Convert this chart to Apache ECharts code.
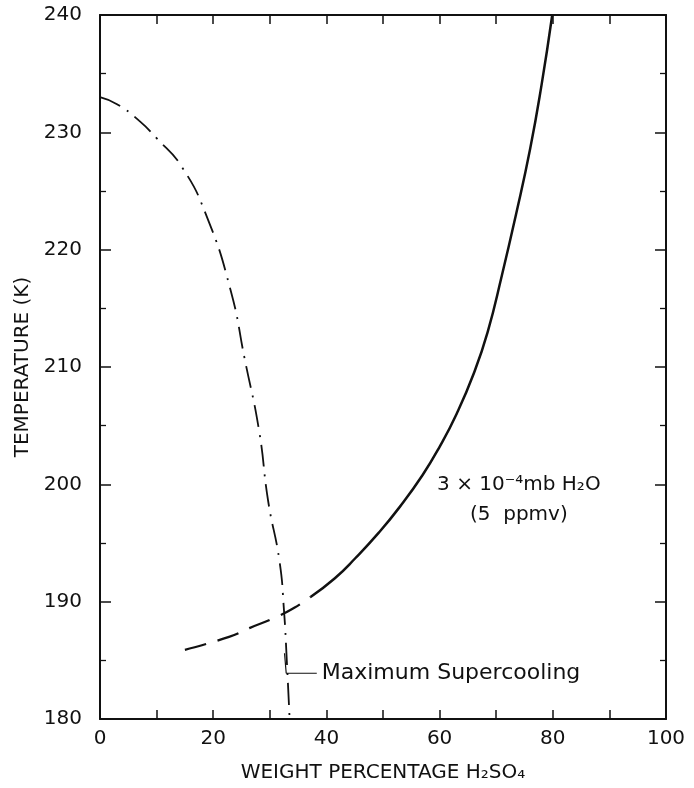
<!DOCTYPE html>
<html>
<head>
<meta charset="utf-8">
<script src="https://cdn.jsdelivr.net/npm/echarts@6/dist/echarts.min.js"></script>
<style>
  html, body { margin: 0; padding: 0; background: #fff; }
  #chart { width: 694px; height: 788px; }
</style>
</head>
<body>
<div id="chart"></div>
<script>
// maximum supercooling curve (dash-dot)
const supercoolWt = [0, 3, 6.9, 10, 14.4, 18.8, 23.1, 25.6, 28.1, 29.7, 31.7, 32.5, 33.0, 33.5];
const supercoolT = [233, 232.4, 231.0, 229.5, 227.1, 222.9, 216.5, 210.6, 204.6, 198.6, 193.5, 189.3, 185, 180];

// 3e-4 mb H2O curve, dashed part
const vaporDashWt = [15, 22.8, 26.4, 31.2, 34.4, 37.2];
const vaporDashT = [185.9, 187.0, 187.75, 188.7, 189.5, 190.4];

// 3e-4 mb H2O curve, solid part
const vaporWt = [37.2, 41.5, 45.1, 49.3, 53.0, 57.0, 60.0, 63.0, 66.0, 68.5, 71.0, 73.5, 76.0, 78.0, 79.9];
const vaporT = [190.4, 192.0, 193.7, 195.9, 198.1, 200.8, 203.2, 206.0, 209.4, 213.0, 217.8, 223.0, 228.6, 234.0, 240];

// leader line for the label
const leaderWt = [32.6, 32.9, 38.3];
const leaderT = [185.6, 183.9, 183.9];

const zip = (xs, ys) => xs.map((x, i) => [x, ys[i]]);

const font = 'DejaVu Sans';
const ink = '#111';

const chart = echarts.init(document.getElementById('chart'));

const baseX = {
  type: 'value', min: 0, max: 100, interval: 10,
  axisLine: { onZero: false, lineStyle: { color: ink, width: 2 } },
  axisTick: { inside: true, length: 9, lineStyle: { color: ink, width: 1.5 } },
  splitLine: { show: false }
};
const baseY = {
  type: 'value', min: 180, max: 240, interval: 10,
  axisLine: { onZero: false, lineStyle: { color: ink, width: 2 } },
  axisTick: { inside: true, length: 11, lineStyle: { color: ink, width: 1.5 } },
  minorTick: { show: true, splitNumber: 2, length: 6, lineStyle: { color: ink, width: 1.3 } },
  splitLine: { show: false },
  minorSplitLine: { show: false }
};

chart.setOption({
  backgroundColor: '#fff',
  animation: false,
  grid: { left: 100, right: 28, top: 15, bottom: 69 },
  xAxis: [
    Object.assign({}, baseX, {
      position: 'bottom',
      name: 'WEIGHT PERCENTAGE H₂SO₄',
      nameLocation: 'middle',
      nameGap: 44,
      nameTextStyle: { color: ink, fontFamily: font, fontSize: 20 },
      axisLabel: {
        color: ink, fontFamily: font, fontSize: 20, margin: 10,
        formatter: v => (v % 20 === 0 ? String(v) : '')
      }
    }),
    Object.assign({}, baseX, { position: 'top', axisLabel: { show: false } })
  ],
  yAxis: [
    Object.assign({}, baseY, {
      position: 'left',
      name: 'TEMPERATURE (K)',
      nameLocation: 'middle',
      nameGap: 64,
      nameTextStyle: { color: ink, fontFamily: font, fontSize: 20 },
      axisLabel: {
        color: ink, fontFamily: font, fontSize: 20, margin: 18
      }
    }),
    Object.assign({}, baseY, { position: 'right', axisLabel: { show: false } })
  ],
  series: [
    {
      type: 'line', data: zip(supercoolWt, supercoolT), smooth: true, symbol: 'none',
      lineStyle: { color: ink, width: 1.8, type: [22, 8, 2, 8] }
    },
    {
      type: 'line', data: zip(vaporDashWt, vaporDashT), smooth: true, symbol: 'none',
      lineStyle: { color: ink, width: 2.3, type: [22, 12] }
    },
    {
      type: 'line', data: zip(vaporWt, vaporT), smooth: true, symbol: 'none',
      lineStyle: { color: ink, width: 2.5 }
    },
    {
      type: 'line', data: zip(leaderWt, leaderT), symbol: 'none',
      lineStyle: { color: ink, width: 1.2 },
      endLabel: {
        show: true, formatter: 'Maximum Supercooling', distance: 5,
        color: ink, fontFamily: font, fontSize: 22
      }
    },
    {
      type: 'scatter', data: [[74, 198.7]], symbolSize: 0,
      itemStyle: { opacity: 1 },
      label: {
        show: true, position: 'inside', opacity: 1,
        formatter: '3 × 10⁻⁴mb H₂O\n(5  ppmv)',
        color: ink, fontFamily: font, fontSize: 20, lineHeight: 30, align: 'center'
      }
    }
  ]
});
</script>
</body>
</html>
